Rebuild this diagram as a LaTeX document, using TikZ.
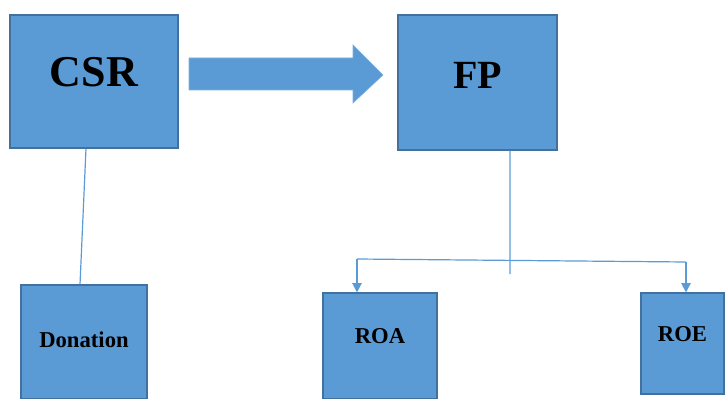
\documentclass[tikz,border=0pt]{standalone}
\usepackage{fontspec}
\setmainfont{Liberation Serif}
\usetikzlibrary{calc, positioning, arrows.meta}

\definecolor{boxblue}{HTML}{5B9BD5}
\definecolor{edgeblue}{HTML}{41719C}

\tikzset{
    box/.style={draw=edgeblue, fill=boxblue, rectangle, line width=0.8pt, font=\bfseries},
    link/.style={draw=boxblue, line width=0.9pt},
    linkarrow/.style={link, -{Triangle[width=7pt,length=7pt]}}
}

\begin{document}
\begin{tikzpicture}[x=0.75pt, y=-0.75pt]
                \useasboundingbox (0,0) rectangle (727,399);

                \node[box, minimum width=126pt, minimum height=99.75pt, text depth=14pt, font=\bfseries\fontsize{33}{36}\selectfont] (CSR) at (94,81.5) {CSR};
                \node[box, minimum width=119.25pt, minimum height=101.25pt, text depth=11pt, font=\bfseries\fontsize{30}{34}\selectfont] (FP) at (477.5,82.5) {FP};
                \node[box, minimum width=94.5pt, minimum height=85.5pt, text depth=4pt, font=\bfseries\fontsize{17}{20}\selectfont] (D) at (84,342) {Donation};
                \node[box, minimum width=85.5pt, minimum height=79.5pt, text depth=15pt, font=\bfseries\fontsize{17}{20}\selectfont] (ROA) at (380,346) {ROA};
                \node[box, minimum width=62.25pt, minimum height=75.75pt, text depth=15pt, font=\bfseries\fontsize{17}{20}\selectfont] (ROE) at (682.5,343.5) {ROE};

                % block arrow between CSR and FP
                \fill[boxblue, draw=boxblue!80!white, line width=0.4pt]
                    (189,58) -- (353,58) -- (353,45) -- (383,75) -- (353,103) -- (353,90) -- (189,90) -- cycle;

                \coordinate (split) at (510,274);
                \coordinate (L) at (357,259);
                \coordinate (R) at (686,262);

                \draw[link] ([xshift=-6pt]CSR.south) -- ([xshift=-3pt]D.north);
                \draw[link] ([xshift=24.4pt]FP.south) -- (split);
                \draw[link] (L) -- (R);
                \draw[linkarrow] (L) -- (L |- ROA.north);
                \draw[linkarrow] (R) -- (R |- ROE.north);
            \end{tikzpicture}
\end{document}
